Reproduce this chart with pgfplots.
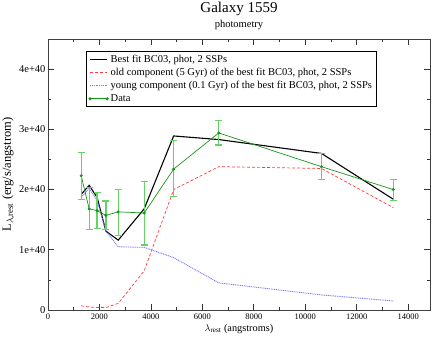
\documentclass[border=0pt]{standalone}
\usepackage{fontspec}
\setmainfont{Liberation Serif}
\usepackage{pgfplots}
\pgfplotsset{compat=1.18}
\usepackage{pgfplotstable}

\definecolor{fitred}{RGB}{255,60,60}
\definecolor{fitblue}{RGB}{120,120,255}
\definecolor{datagreen}{RGB}{20,150,20}
\definecolor{errgreen}{RGB}{100,210,100}

% lambda_rest, best fit, old (5 Gyr), young (0.1 Gyr)
\pgfplotstableread{
x      best     old      young
1290   1.92e40  0.07e40  1.87e40
1600   2.07e40  0.05e40  2.02e40
1910   1.87e40  0.04e40  1.82e40
2250   1.31e40  0.04e40  1.31e40
2730   1.16e40  0.11e40  1.05e40
3740   1.68e40  0.65e40  1.04e40
4885   2.89e40  2.00e40  0.87e40
6640   2.83e40  2.38e40  0.45e40
10630  2.60e40  2.35e40  0.25e40
13420  1.84e40  1.70e40  0.15e40
}\fitdata

% lambda_rest, flux, error plus, error minus
\pgfplotstableread{
x      y        ep       em
1290   2.23e40  0.38e40  0.39e40
1600   1.68e40  0.35e40  0.34e40
1910   1.65e40  0.30e40  0.30e40
2250   1.57e40  0.24e40  0.24e40
2730   1.63e40  0.37e40  0.39e40
3740   1.61e40  0.52e40  0.53e40
4885   2.34e40  0.47e40  0.45e40
6640   2.94e40  0.21e40  0.20e40
10630  2.38e40  0.22e40  0.22e40
13420  2.00e40  0.17e40  0.18e40
}\obsdata

\begin{document}
\begin{tikzpicture}
\begin{axis}[
    name=ax,
    scale only axis,
    width=382pt, height=271pt,
    xmin=0, xmax=14850,
    ymin=0, ymax=4.5e40,
    xtick={0,2000,...,14000},
    minor x tick num=1,
    ytick={0,1e40,2e40,3e40,4e40},
    yticklabels={0,1e+40,2e+40,3e+40,4e+40},
    minor y tick num=1,
    scaled x ticks=false, scaled y ticks=false,
    /pgf/number format/assume math mode=true,
    /pgf/number format/1000 sep={},
    xticklabel style={font=\fontsize{8.5}{10}\selectfont},
    yticklabel style={font=\fontsize{10.5}{12}\selectfont, xshift=1pt},
    tick align=inside,
    major tick length=6pt, minor tick length=3pt,
    tick style={black!80, line width=0.6pt},
    axis line style={black!75, line width=0.9pt},
    xlabel={$\lambda$\textsubscript{rest} (angstroms)},
    ylabel={L\textsubscript{$\lambda$,rest} (erg/s/angstrom)},
    xlabel style={font=\fontsize{10.3}{12}\selectfont, yshift=2pt},
    ylabel style={font=\fontsize{12.5}{14}\selectfont, yshift=-2pt},
    legend cell align=left,
    legend style={at={(0.1,0.956)}, anchor=north west,
        draw=black, line width=0.7pt,
        font=\fontsize{10.5}{12.6}\selectfont,
        inner xsep=2pt, inner ysep=1.5pt, row sep=0.4pt},
    legend image code/.code={\draw[#1, line width=0.9pt] (0cm,0cm) -- (0.6cm,0cm);},
]
\addplot[black, line width=1.1pt, mark=none] table[x=x, y=best] {\fitdata};
\addlegendentry{Best fit BC03, phot, 2 SSPs}
\addplot[fitred, line width=0.7pt, dash pattern=on 3pt off 2pt, mark=none] table[x=x, y=old] {\fitdata};
\addlegendentry{old component (5 Gyr) of the best fit BC03, phot, 2 SSPs}
\addplot[fitblue, line width=0.9pt, dash pattern=on 1pt off 0.8pt, mark=none] table[x=x, y=young] {\fitdata};
\addlegendentry{young component (0.1 Gyr) of the best fit BC03, phot, 2 SSPs}
\addplot[datagreen, line width=0.7pt, mark=*, mark size=1.1pt,
    mark options={fill=datagreen, draw=datagreen},
    legend image code/.code={
        \draw[datagreen, line width=0.8pt] (0cm,0cm) -- (0.6cm,0cm);
        \fill[datagreen] (0cm,0cm) circle (1.2pt) (0.6cm,0cm) circle (1.2pt);},
    error bars/.cd, y dir=both, y explicit,
    error bar style={errgreen, line width=1.3pt},
    error mark options={rotate=90, mark size=3.5pt, errgreen, line width=1.1pt},
    ] table[x=x, y=y, y error plus=ep, y error minus=em] {\obsdata};
\addlegendentry{Data}
\end{axis}
\node[anchor=base, font=\fontsize{15}{18}\selectfont] at ([yshift=26pt]ax.north) {Galaxy 1559};
\node[anchor=base, font=\fontsize{10.5}{12}\selectfont] at ([yshift=11pt]ax.north) {photometry};
\pgfresetboundingbox
\path ([shift={(-48pt,-29pt)}]ax.south west) rectangle ([shift={(6pt,39pt)}]ax.north east);
\end{tikzpicture}
\end{document}
